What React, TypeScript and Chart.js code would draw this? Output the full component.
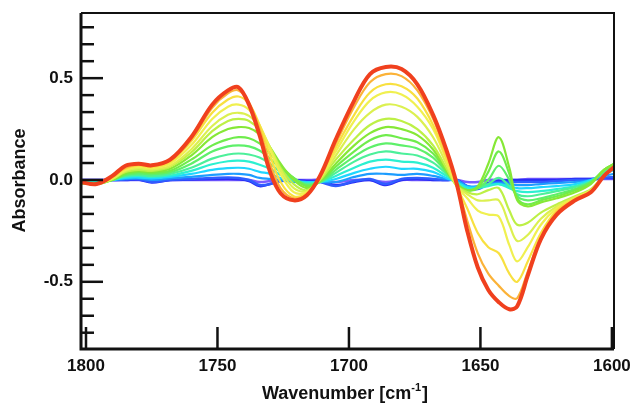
import { useEffect, useRef } from 'react';
import { Chart, registerables } from 'chart.js';

Chart.register(...registerables);

// Wavenumber grid (cm^-1), shared by all spectra
const WAVENUMBERS = [1802, 1796, 1790, 1785, 1780, 1775, 1768, 1760, 1752, 1746, 1742, 1738, 1734, 1730, 1726, 1721, 1716, 1711, 1705, 1698, 1692, 1686, 1680, 1674, 1668, 1663, 1659, 1655, 1651, 1647, 1643, 1639, 1636, 1632, 1627, 1621, 1614, 1608, 1603, 1599];

// Difference spectra, from the first (violet) to the last (red)
const S00 = [0.0, 0.0, 0.0, 0.0, 0.0, -0.005, 0.0, 0.0, 0.0, 0.0, 0.0, 0.0, -0.01, -0.005, 0.0, 0.0, 0.0, 0.0, -0.01, 0.0, 0.0, -0.01, 0.0, 0.0, 0.0, 0.0, 0.0, -0.01, -0.01, 0.0, 0.0, 0.0, 0.0, 0.005, 0.005, 0.005, 0.005, 0.005, 0.005, 0.005];
const S01 = [0.0, 0.0, 0.0, 0.0, 0.002, -0.012, 0.0, 0.002, 0.005, 0.006, 0.004, -0.005, -0.03, -0.02, -0.005, 0.0, -0.005, -0.005, -0.025, -0.01, 0.0, -0.025, 0.0, 0.005, 0.0, 0.0, 0.0, -0.03, -0.035, -0.015, -0.005, 0.0, 0.0, 0.0, 0.0, 0.0, 0.005, 0.005, 0.01, 0.01];
const S02 = [-0.005, -0.005, 0.0, 0.002, 0.004, -0.01, 0.0, 0.005, 0.01, 0.012, 0.01, 0.0, -0.025, -0.02, -0.005, -0.005, -0.01, -0.01, -0.03, -0.005, 0.005, -0.02, 0.005, 0.01, 0.005, 0.0, 0.0, -0.04, -0.045, -0.02, -0.01, -0.01, -0.01, -0.01, -0.01, -0.005, 0.0, 0.0, 0.01, 0.015];
const S03 = [-0.005, -0.005, 0.0, 0.005, 0.008, 0.0, 0.008, 0.015, 0.025, 0.03, 0.03, 0.025, 0.01, 0.005, 0.0, -0.01, -0.01, -0.01, -0.01, 0.015, 0.03, 0.03, 0.025, 0.03, 0.02, 0.005, 0.0, -0.03, -0.03, -0.02, -0.015, -0.02, -0.025, -0.025, -0.02, -0.015, -0.01, 0.0, 0.02, 0.03];
const S04 = [-0.01, -0.01, 0.0, 0.01, 0.012, 0.008, 0.015, 0.03, 0.05, 0.058, 0.06, 0.055, 0.04, 0.03, 0.01, -0.005, -0.01, -0.01, 0.005, 0.035, 0.055, 0.065, 0.055, 0.055, 0.04, 0.01, -0.01, -0.035, -0.035, -0.025, -0.02, -0.03, -0.04, -0.04, -0.035, -0.03, -0.02, 0.0, 0.03, 0.05];
const S05 = [-0.01, -0.01, 0.0, 0.015, 0.02, 0.015, 0.022, 0.045, 0.077, 0.092, 0.095, 0.09, 0.075, 0.055, 0.025, 0.0, -0.015, -0.01, 0.02, 0.06, 0.09, 0.1, 0.09, 0.085, 0.06, 0.02, -0.01, -0.04, -0.04, -0.03, -0.02, -0.04, -0.055, -0.06, -0.055, -0.045, -0.03, -0.005, 0.035, 0.06];
const S06 = [-0.01, -0.015, 0.0, 0.02, 0.025, 0.02, 0.03, 0.06, 0.105, 0.125, 0.13, 0.125, 0.11, 0.08, 0.04, 0.005, -0.02, -0.01, 0.035, 0.09, 0.125, 0.14, 0.13, 0.12, 0.085, 0.03, -0.02, -0.05, -0.04, -0.02, 0.01, -0.03, -0.07, -0.08, -0.07, -0.055, -0.035, -0.01, 0.04, 0.07];
const S07 = [-0.015, -0.015, 0.0, 0.025, 0.032, 0.028, 0.038, 0.08, 0.14, 0.165, 0.17, 0.165, 0.145, 0.105, 0.055, 0.01, -0.025, -0.01, 0.05, 0.115, 0.16, 0.18, 0.17, 0.155, 0.11, 0.04, -0.02, -0.05, -0.04, 0.0, 0.07, 0.0, -0.08, -0.1, -0.09, -0.07, -0.045, -0.01, 0.05, 0.08];
const S08 = [-0.015, -0.02, 0.0, 0.03, 0.04, 0.035, 0.045, 0.1, 0.17, 0.2, 0.21, 0.205, 0.18, 0.13, 0.07, 0.01, -0.03, -0.005, 0.065, 0.14, 0.195, 0.22, 0.205, 0.185, 0.13, 0.045, -0.02, -0.05, -0.04, 0.04, 0.14, 0.03, -0.09, -0.12, -0.1, -0.08, -0.05, -0.015, 0.05, 0.08];
const S09 = [-0.015, -0.02, 0.0, 0.035, 0.045, 0.04, 0.055, 0.12, 0.21, 0.25, 0.26, 0.255, 0.225, 0.16, 0.08, 0.0, -0.04, -0.005, 0.08, 0.17, 0.23, 0.26, 0.25, 0.22, 0.15, 0.05, -0.02, -0.05, -0.03, 0.08, 0.21, 0.06, -0.1, -0.13, -0.11, -0.09, -0.06, -0.02, 0.05, 0.08];
const S10 = [-0.015, -0.02, 0.005, 0.04, 0.05, 0.045, 0.065, 0.135, 0.24, 0.29, 0.3, 0.29, 0.245, 0.16, 0.06, -0.02, -0.05, 0.0, 0.1, 0.2, 0.27, 0.3, 0.29, 0.25, 0.17, 0.06, -0.03, -0.06, -0.07, -0.05, -0.04, -0.15, -0.22, -0.21, -0.16, -0.12, -0.08, -0.045, 0.025, 0.07];
const S11 = [-0.01, -0.02, 0.005, 0.045, 0.058, 0.052, 0.07, 0.15, 0.265, 0.32, 0.33, 0.315, 0.26, 0.16, 0.05, -0.04, -0.055, 0.005, 0.12, 0.25, 0.33, 0.37, 0.36, 0.31, 0.21, 0.08, -0.03, -0.07, -0.1, -0.1, -0.1, -0.22, -0.3, -0.27, -0.19, -0.13, -0.085, -0.05, 0.02, 0.065];
const S12 = [-0.01, -0.02, 0.01, 0.05, 0.065, 0.058, 0.08, 0.17, 0.3, 0.36, 0.37, 0.345, 0.27, 0.15, 0.03, -0.06, -0.06, 0.01, 0.14, 0.29, 0.39, 0.43, 0.42, 0.36, 0.25, 0.1, -0.03, -0.09, -0.15, -0.17, -0.18, -0.32, -0.4, -0.33, -0.22, -0.14, -0.09, -0.05, 0.02, 0.06];
const S13 = [-0.01, -0.02, 0.01, 0.055, 0.07, 0.063, 0.088, 0.19, 0.33, 0.395, 0.41, 0.375, 0.27, 0.12, -0.01, -0.08, -0.065, 0.015, 0.16, 0.32, 0.43, 0.47, 0.46, 0.4, 0.27, 0.11, -0.03, -0.14, -0.26, -0.33, -0.36, -0.46, -0.5, -0.4, -0.26, -0.15, -0.09, -0.055, 0.02, 0.065];
const S14 = [-0.01, -0.02, 0.015, 0.06, 0.075, 0.068, 0.095, 0.2, 0.355, 0.425, 0.44, 0.38, 0.25, 0.08, -0.04, -0.09, -0.07, 0.02, 0.18, 0.36, 0.48, 0.52, 0.51, 0.44, 0.3, 0.13, -0.02, -0.2, -0.36, -0.46, -0.52, -0.57, -0.58, -0.45, -0.28, -0.16, -0.095, -0.055, 0.02, 0.065];
const S15 = [-0.01, -0.02, 0.02, 0.07, 0.08, 0.072, 0.1, 0.21, 0.37, 0.44, 0.455, 0.37, 0.22, 0.04, -0.065, -0.1, -0.075, 0.02, 0.2, 0.39, 0.52, 0.555, 0.545, 0.47, 0.32, 0.15, -0.02, -0.25, -0.43, -0.54, -0.6, -0.635, -0.62, -0.47, -0.29, -0.17, -0.1, -0.06, 0.02, 0.065];

const SERIES = [S00, S01, S02, S03, S04, S05, S06, S07, S08, S09, S10, S11, S12, S13, S14, S15];
const COLORS = ['#7a5cff', '#2a2cf5', '#2f5cff', '#1c9cff', '#1fd6ff', '#2cf0d0', '#4cf09a', '#5ef06a', '#70ec4c', '#86e836', '#bdf046', '#dcf050', '#f0f050', '#f8e040', '#fbb238', '#f0401e'];

const X_TICKS = [1800, 1750, 1700, 1650, 1600];
const Y_TICKS = [-0.5, 0, 0.5];
const X_TITLE = 'Wavenumber [cm';
const X_TITLE_SUP = '-1';
const X_TITLE_END = ']';
const Y_TITLE = 'Absorbance';

const FONT = '"Liberation Sans", Arial, Helvetica, sans-serif';

const framePlugin = {
  id: 'frame',
  afterDraw(chart: any) {
    const { ctx, chartArea: a, scales } = chart;
    const xs = scales.x;
    const ys = scales.y;
    const line = (x1: number, y1: number, x2: number, y2: number) => {
      ctx.beginPath();
      ctx.moveTo(x1, y1);
      ctx.lineTo(x2, y2);
      ctx.stroke();
    };
    ctx.save();
    ctx.strokeStyle = '#111';
    ctx.lineCap = 'butt';
    ctx.lineWidth = 2;
    ctx.beginPath();
    ctx.moveTo(a.left, a.top);
    ctx.lineTo(a.right, a.top);
    ctx.lineTo(a.right, a.bottom);
    ctx.stroke();
    ctx.lineWidth = 3;
    ctx.beginPath();
    ctx.moveTo(a.left, a.top);
    ctx.lineTo(a.left, a.bottom);
    ctx.lineTo(a.right, a.bottom);
    ctx.stroke();
    ctx.lineWidth = 2.5;
    for (let k = -9; k <= 9; k++) {
      const py = ys.getPixelForValue(k / 12);
      const len = k % 6 === 0 ? 22 : 13;
      line(a.left, py, a.left + len, py);
    }
    for (const v of X_TICKS) {
      const px = xs.getPixelForValue(v);
      line(px, a.bottom, px, a.bottom - 22);
    }
    // axis titles
    ctx.fillStyle = '#111';
    ctx.textBaseline = 'alphabetic';
    const main = `bold 18px ${FONT}`;
    const sup = `bold 11px ${FONT}`;
    ctx.font = main;
    const w1 = ctx.measureText(X_TITLE).width;
    const w3 = ctx.measureText(X_TITLE_END).width;
    ctx.font = sup;
    const w2 = ctx.measureText(X_TITLE_SUP).width;
    const total = w1 + w2 + w3 + 1;
    let tx = 345 - total / 2;
    const by = 399;
    ctx.textAlign = 'left';
    ctx.font = main;
    ctx.fillText(X_TITLE, tx, by);
    tx += w1;
    ctx.font = sup;
    ctx.fillText(X_TITLE_SUP, tx, by - 8);
    tx += w2 + 1;
    ctx.font = main;
    ctx.fillText(X_TITLE_END, tx, by);

    ctx.translate(20.5, 180.5);
    ctx.rotate(-Math.PI / 2);
    ctx.textAlign = 'center';
    ctx.textBaseline = 'middle';
    ctx.font = main;
    ctx.fillText(Y_TITLE, 0, 0);
    ctx.restore();
  },
};

const noPad = (s: any) => {
  s.paddingTop = 0;
  s.paddingBottom = 0;
  s.paddingLeft = 0;
  s.paddingRight = 0;
};

export default function App() {
  const ref = useRef<HTMLCanvasElement>(null);
  useEffect(() => {
    document.body.style.margin = '0';
    const canvas = ref.current;
    if (!canvas) return;
    const datasets = SERIES.map((s, i) => ({
      label: `t${i}`,
      data: WAVENUMBERS.map((w, j) => ({ x: w, y: s[j] })),
      borderColor: COLORS[i],
      backgroundColor: COLORS[i],
      borderWidth: i === SERIES.length - 1 ? 4 : i <= 2 ? 2.5 : 2.2,
      pointRadius: 0,
      tension: 0.35,
      fill: false,
      order: SERIES.length - 1 - i,
    }));
    const chart = new Chart(canvas, {
      type: 'line',
      data: { datasets },
      options: {
        animation: false,
        responsive: false,
        maintainAspectRatio: false,
        layout: { padding: { top: 13, right: 19, left: 0, bottom: 0 } },
        plugins: { legend: { display: false }, tooltip: { enabled: false } },
        scales: {
          x: {
            type: 'linear',
            reverse: true,
            min: 1599.2,
            max: 1801.9,
            grid: { display: false, drawTicks: false },
            border: { display: false },
            afterBuildTicks: (s: any) => {
              s.ticks = X_TICKS.map((v) => ({ value: v }));
            },
            afterFit: (s: any) => {
              s.height = 54;
              noPad(s);
            },
            ticks: {
              padding: 7,
              color: '#111',
              font: { family: FONT, size: 17, weight: 'bold' },
              maxRotation: 0,
              autoSkip: false,
              callback: (v: any) => String(v),
            },
          },
          y: {
            type: 'linear',
            min: -0.83,
            max: 0.82,
            grid: { display: false, drawTicks: false },
            border: { display: false },
            afterBuildTicks: (s: any) => {
              s.ticks = Y_TICKS.map((v) => ({ value: v }));
            },
            afterFit: (s: any) => {
              s.width = 81;
              noPad(s);
            },
            ticks: {
              padding: 8,
              color: '#111',
              font: { family: FONT, size: 17, weight: 'bold' },
              autoSkip: false,
              callback: (v: any) => Number(v).toFixed(1),
            },
          },
        },
      },
      plugins: [framePlugin],
    });
    return () => chart.destroy();
  }, []);
  return (
    <div style={{ width: 633, height: 403, background: '#fff' }}>
      <canvas ref={ref} width={633} height={403} />
    </div>
  );
}
